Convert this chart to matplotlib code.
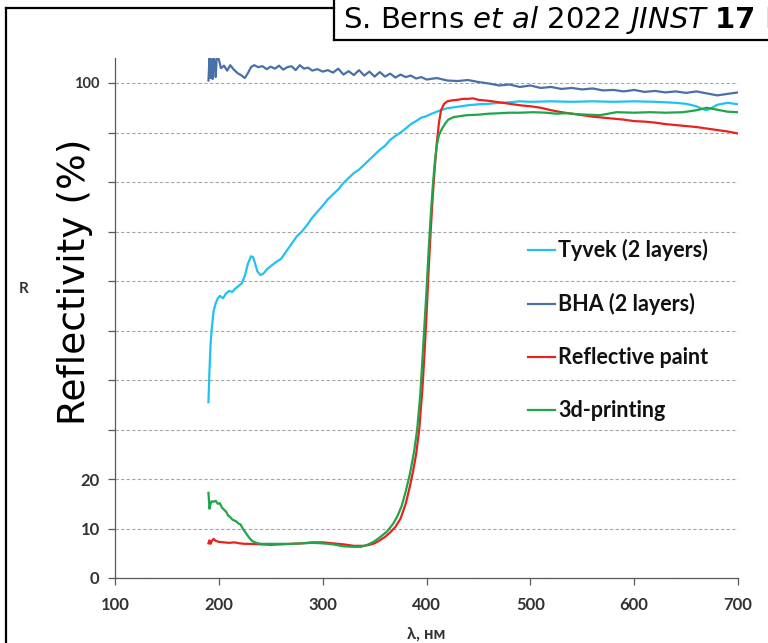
import matplotlib
matplotlib.use("Agg")
import matplotlib.pyplot as plt
from matplotlib.lines import Line2D

# ---------------- data ----------------
tyvek_wl = [190, 191, 192, 193, 194, 195, 197, 199, 201, 204, 207, 210, 213, 216, 219, 222, 225, 228, 231, 233,
            235, 237, 240, 243, 246, 250, 255, 260, 265, 270, 275, 280, 285, 290, 295, 300, 305, 310, 315, 320,
            325, 330, 335, 340, 345, 350, 355, 360, 365, 370, 375, 380, 385, 390, 395, 400, 405, 410, 415, 420,
            430, 440, 450, 460, 470, 480, 490, 500, 520, 540, 560, 580, 600, 620, 640, 650, 660, 665, 670, 675,
            680, 690, 700]
tyvek_r = [35.5, 42, 47, 50, 52, 54, 55.5, 56.5, 57, 56.5, 57.5, 58, 57.8, 58.5, 59, 59.5, 61, 63.5, 65, 64.8,
           63.5, 62, 61.2, 61.5, 62.3, 63, 63.8, 64.5, 66, 67.5, 69, 70, 71.3, 72.8, 74, 75.2, 76.5, 77.5, 78.5, 79.8,
           80.8, 81.8, 82.5, 83.5, 84.5, 85.5, 86.5, 87.3, 88.5, 89.3, 90, 90.8, 91.7, 92.3, 93, 93.3, 93.8, 94.2, 94.6, 94.9,
           95.2, 95.5, 95.7, 95.8, 96, 96.1, 96.3, 96.2, 96.3, 96.2, 96.3, 96.2, 96.3, 96.2, 96, 95.8, 95.3, 94.8, 94.5, 95,
           95.6, 96, 95.7]

bha_wl = [190, 191, 192, 193, 194, 195, 196, 197, 198, 199, 200, 202, 205, 208, 211, 214, 218, 222, 225, 228,
          231, 234, 238, 242, 246, 250, 254, 258, 262, 266, 270, 274, 278, 282, 286, 290, 295, 300, 305, 310,
          315, 320, 325, 330, 335, 340, 345, 350, 355, 360, 365, 370, 375, 380, 385, 390, 395, 400, 410, 420,
          430, 440, 450, 460, 470, 480, 490, 500, 510, 520, 530, 540, 550, 560, 570, 580, 590, 600, 610, 620,
          630, 640, 650, 660, 670, 680, 690, 700]
bha_r = [100.5, 105, 101, 104.8, 100.8, 105, 104.5, 101.2, 105.2, 105, 104.8, 103, 103.5, 102.5, 103.6, 102.8, 102, 101.5, 101, 102,
         103.2, 103.6, 103.2, 103.4, 102.8, 103.3, 102.9, 103.5, 102.7, 103.2, 103.4, 102.6, 103.6, 102.9, 103.1, 102.5, 102.8, 102.3, 102.6, 102.1,
         102.9, 101.7, 102.4, 101.6, 102.6, 101.5, 102.3, 101.3, 102.2, 101.3, 101.9, 101.1, 101.7, 101.2, 101.5, 100.9, 101.2, 100.7, 101, 100.5,
         100.4, 100.6, 100.2, 99.9, 99.5, 99.7, 99.2, 99.5, 99.0, 99.2, 98.8, 99.0, 98.7, 98.9, 98.5, 98.6, 98.3, 98.6, 98.2, 98.4,
         98.1, 98.3, 98.0, 98.3, 97.9, 97.5, 97.8, 98.1]

paint_wl = [190, 191, 192, 193, 195, 197, 200, 205, 210, 215, 220, 225, 230, 240, 250, 260, 270, 280, 290, 300,
            310, 320, 330, 340, 345, 350, 355, 360, 365, 370, 375, 380, 384, 387, 390, 393, 396, 398, 400, 402,
            404, 406, 408, 410, 412, 414, 417, 420, 425, 430, 435, 440, 445, 450, 460, 470, 480, 490, 500, 510,
            520, 530, 540, 550, 560, 570, 580, 590, 600, 610, 620, 630, 640, 650, 660, 670, 680, 690, 700]
paint_r = [7.0, 7.6, 6.9, 7.4, 7.9, 7.5, 7.3, 7.2, 7.1, 7.2, 7.0, 6.9, 6.9, 6.8, 6.7, 6.8, 6.9, 7.0, 7.2, 7.2,
           7.0, 6.8, 6.5, 6.5, 6.7, 7.0, 7.6, 8.3, 9.2, 10.3, 12.0, 15.0, 18.5, 21.5, 25, 30, 38, 45, 53, 62,
           70, 77, 83, 88, 92, 94.5, 95.8, 96.3, 96.5, 96.6, 96.8, 96.8, 96.9, 96.6, 96.4, 96.1, 95.8, 95.5, 95.3, 95.0,
           94.5, 94.1, 93.8, 93.5, 93.2, 93.0, 92.8, 92.6, 92.3, 92.2, 92.0, 91.7, 91.5, 91.3, 91.1, 90.8, 90.5, 90.2, 89.8]

print_wl = [190, 191, 192, 193, 195, 197, 199, 201, 203, 205, 207, 209, 211, 213, 215, 217, 219, 221, 223, 226,
            229, 232, 236, 240, 250, 260, 270, 280, 290, 300, 310, 320, 330, 337, 343, 349, 355, 362, 368, 372,
            376, 380, 384, 388, 391, 394, 396, 398, 400, 402, 404, 406, 408, 410, 412, 415, 418, 421, 426, 432,
            439, 450, 460, 471, 480, 490, 503, 515, 525, 535, 545, 555, 567, 575, 583, 600, 615, 630, 647, 660,
            670, 680, 690, 700]
print_r = [17.2, 14.0, 15.0, 15.5, 15.4, 15.6, 15.0, 15.1, 14.2, 13.8, 13.4, 12.6, 12.3, 11.8, 11.6, 11.4, 11.0, 10.8, 10.0, 9.1,
           8.2, 7.5, 7.1, 6.9, 6.9, 6.9, 6.9, 7.0, 7.1, 7.0, 6.8, 6.4, 6.3, 6.3, 6.7, 7.3, 8.2, 9.4, 11.0, 12.5,
           14.5, 17.5, 21.0, 25.5, 30, 37, 44, 51, 58, 66, 73, 79, 84, 87.5, 89.5, 90.8, 91.8, 92.6, 93.1, 93.3,
           93.5, 93.6, 93.8, 93.9, 94.0, 94.0, 94.1, 94.0, 93.8, 93.9, 93.7, 93.6, 93.5, 93.8, 94.1, 94.0, 94.1, 94.0, 94.1, 94.5,
           95.0, 94.6, 94.2, 94.1]

series_labels = ["Tyvek (2 layers)", "BHA (2 layers)", "Reflective paint", "3d-printing"]
series_colors = ["#20C2F2", "#4A70A8", "#E8231E", "#1FA54A"]

x_ticks = [100, 200, 300, 400, 500, 600, 700]
y_ticks = [0, 10, 20, 30, 40, 50, 60, 70, 80, 90, 100]
y_tick_labels = ["0", "10", "20", "", "", "", "", "", "", "", "100"]

# ---------------- figure ----------------
W, H = 768, 643
fig = plt.figure(figsize=(W / 100, H / 100), dpi=100)
ax = fig.add_axes([115 / W, 1 - 578 / H, (738 - 115) / W, (578 - 58.25) / H])

lab_font = ['Lato', 'Open Sans', 'DejaVu Sans']
tick_col = "#333333"

for wl, r, lab, col in zip([tyvek_wl, bha_wl, paint_wl, print_wl],
                           [tyvek_r, bha_r, paint_r, print_r],
                           series_labels, series_colors):
    ax.plot(wl, r, color=col, lw=1.6, label=lab, solid_joinstyle='round')

ax.set_xlim(100, 700)
ax.set_ylim(0, 105)
ax.set_xticks(x_ticks)
ax.set_yticks(y_ticks)
ax.set_xticklabels([str(t) for t in x_ticks], fontfamily=lab_font, fontweight='bold',
                   fontsize=12, color=tick_col)
ax.set_yticklabels(y_tick_labels, fontfamily=lab_font, fontweight='bold',
                   fontsize=12, color=tick_col)
ax.get_yticklabels()[-1].set_fontsize(10.5)

ax.yaxis.grid(True, linestyle=(0, (3, 2)), color="#a6a6a6", lw=0.8)
ax.set_axisbelow(True)
for s in ['top', 'right']:
    ax.spines[s].set_visible(False)
for s in ['left', 'bottom']:
    ax.spines[s].set_color("#595959")
    ax.spines[s].set_linewidth(0.9)
ax.tick_params(axis='both', direction='out', length=5, width=0.9, color="#595959", pad=6)
ax.tick_params(axis='x', pad=9)

ax.set_xlabel("λ, нм", fontfamily=lab_font, fontweight='bold', fontsize=12, color=tick_col, labelpad=9)

leg = ax.legend(loc='upper left', bbox_to_anchor=(528 / W, 1 - 239 / H), bbox_transform=fig.transFigure,
                frameon=False, handlelength=1.25, handletextpad=0.15, labelspacing=1.49,
                borderpad=0, borderaxespad=0,
                prop={'family': lab_font, 'weight': 'bold', 'size': 15.5})
for t in leg.get_texts():
    t.set_color("#111111")

# side labels
fig.text(19 / W, 1 - 289 / H, "R", fontfamily=lab_font, fontweight='bold', fontsize=11,
         color=tick_col, ha='left', va='center')
fig.text(75 / W, 1 - 282 / H, "Reflectivity (%)", rotation=90, fontsize=27,
         ha='center', va='center', color='black')

# outer frame and citation box
lw_frame = 1.6
fig.add_artist(Line2D([6 / W, 6 / W], [1 - 8 / H, 0], transform=fig.transFigure, color='black', lw=lw_frame))
fig.add_artist(Line2D([6 / W, 334 / W], [1 - 8 / H, 1 - 8 / H], transform=fig.transFigure, color='black', lw=lw_frame))
fig.add_artist(Line2D([334 / W, 334 / W], [1.0, 1 - 40 / H], transform=fig.transFigure, color='black', lw=lw_frame))
fig.add_artist(Line2D([334 / W, 1.0], [1 - 40 / H, 1 - 40 / H], transform=fig.transFigure, color='black', lw=lw_frame))
fig.text(343 / W, 1 - 28 / H, r"S. Berns $\mathit{et\ al}$ 2022 $\mathit{JINST}$ $\mathbf{17}$ P10023",
         fontsize=21, ha='left', va='baseline', color='black')

fig.savefig("out.png", dpi=100)
